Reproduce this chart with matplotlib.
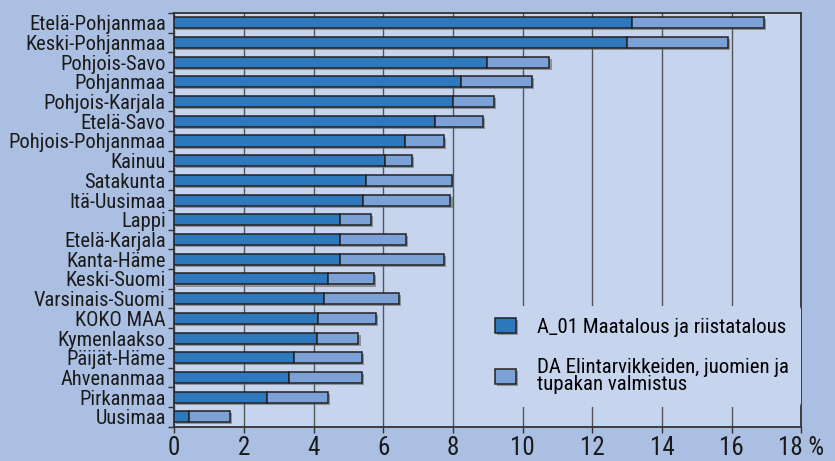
import matplotlib
matplotlib.use("Agg")
import matplotlib.pyplot as plt
import matplotlib.patheffects as pe
from matplotlib import font_manager
import numpy as np

regions = ['Etelä-Pohjanmaa', 'Keski-Pohjanmaa', 'Pohjois-Savo', 'Pohjanmaa',
           'Pohjois-Karjala', 'Etelä-Savo', 'Pohjois-Pohjanmaa', 'Kainuu',
           'Satakunta', 'Itä-Uusimaa', 'Lappi', 'Etelä-Karjala', 'Kanta-Häme',
           'Keski-Suomi', 'Varsinais-Suomi', 'KOKO MAA', 'Kymenlaakso',
           'Päijät-Häme', 'Ahvenanmaa', 'Pirkanmaa', 'Uusimaa']
# A_01 Maatalous ja riistatalous (%)
agri = [13.14, 13.0, 8.97, 8.22, 8.01, 7.49, 6.62, 6.04, 5.50, 5.43, 4.75,
        4.75, 4.75, 4.42, 4.31, 4.14, 4.11, 3.45, 3.29, 2.66, 0.43]
# DA Elintarvikkeiden, juomien ja tupakan valmistus (%)
food = [3.78, 2.89, 1.80, 2.06, 1.17, 1.36, 1.13, 0.79, 2.46, 2.50, 0.89,
        1.91, 3.00, 1.31, 2.15, 1.64, 1.18, 1.93, 2.09, 1.76, 1.17]
xticks = [0, 2, 4, 6, 8, 10, 12, 14, 16, 18]
xticklabels = ['0', '2', '4', '6', '8', '10', '12', '14', '16', '18 %']

# look for a narrow font, the original uses a condensed sans
installed = font_manager.fontManager.ttflist
names = {f.name for f in installed}
stretch = 'normal'
family = 'Liberation Sans'
narrow = False
for cand in ['Liberation Sans Narrow', 'Roboto Condensed', 'Open Sans Condensed',
             'Noto Sans Condensed', 'DejaVu Sans Condensed']:
    if cand in names:
        family = cand
        narrow = True
        break
if not narrow:
    for f in installed:
        if f.name in ('Roboto', 'Noto Sans', 'Open Sans', 'DejaVu Sans') and \
                str(f.stretch) in ('condensed', 'semi-condensed', '75', '87.5'):
            family = f.name
            stretch = 'condensed'
            narrow = True
            break
plt.rcParams['font.family'] = [family, 'DejaVu Sans']
plt.rcParams['font.stretch'] = stretch
ysize = 14.8 if narrow else 12
xsize = 18 if narrow else 15
lsize = 15 if narrow else 12.5

fig_bg = '#aabfe1'
ax_bg = '#c6d4ed'
dark = '#2e78be'
light = '#7ba1d6'

fig = plt.figure(figsize=(8.35, 4.61), dpi=100, facecolor=fig_bg)
ax = fig.add_axes([0.2085, 0.0744, 0.7513, 0.8976])
ax.set_facecolor(ax_bg)

y = np.arange(len(regions))
shadow = [pe.SimplePatchShadow(offset=(1.5, -1.5), shadow_rgbFace='#666666', alpha=0.6), pe.Normal()]
b1 = ax.barh(y, agri, height=0.56, color=dark, edgecolor='#222222', linewidth=1.1,
             label='A_01 Maatalous ja riistatalous', zorder=3)
b2 = ax.barh(y, food, left=agri, height=0.56, color=light, edgecolor='#222222', linewidth=1.1,
             label='DA Elintarvikkeiden, juomien ja\ntupakan valmistus', zorder=3)
for bar in list(b1) + list(b2):
    bar.set_path_effects(shadow)

ax.set_xlim(0, 18)
ax.set_ylim(len(regions) - 0.5, -0.5)
ax.set_xticks(xticks)
ax.set_xticklabels(xticklabels, fontsize=xsize)
ax.set_yticks(y)
ax.set_yticklabels(regions, fontsize=ysize)
ax.set_yticks(np.arange(len(regions) + 1) - 0.5, minor=True)
ax.tick_params(axis='y', which='major', length=0, pad=6)
ax.tick_params(axis='y', which='minor', length=4, width=1, color='#333333')
ax.tick_params(axis='x', length=4, width=1, color='#333333', pad=3)
for lbl in ax.get_yticklabels() + ax.get_xticklabels():
    lbl.set_color('#1a1a1a')

ax.grid(axis='x', color='#555555', linewidth=1, zorder=0)
ax.set_axisbelow(True)
for s in ax.spines.values():
    s.set_color('#333333')
    s.set_linewidth(1.3)

leg = ax.legend(loc='upper left', bbox_to_anchor=(0.475, 0.318), fontsize=lsize,
                frameon=True, facecolor=ax_bg, edgecolor='none', framealpha=1,
                handlelength=1.0, handleheight=0.75, labelspacing=1.0,
                borderpad=0.6, handletextpad=1.0)
for t in leg.get_texts():
    t.set_linespacing(0.88)
for h in leg.legend_handles:
    h.set_path_effects(shadow)

fig.savefig('out.png', dpi=100, facecolor=fig_bg)
